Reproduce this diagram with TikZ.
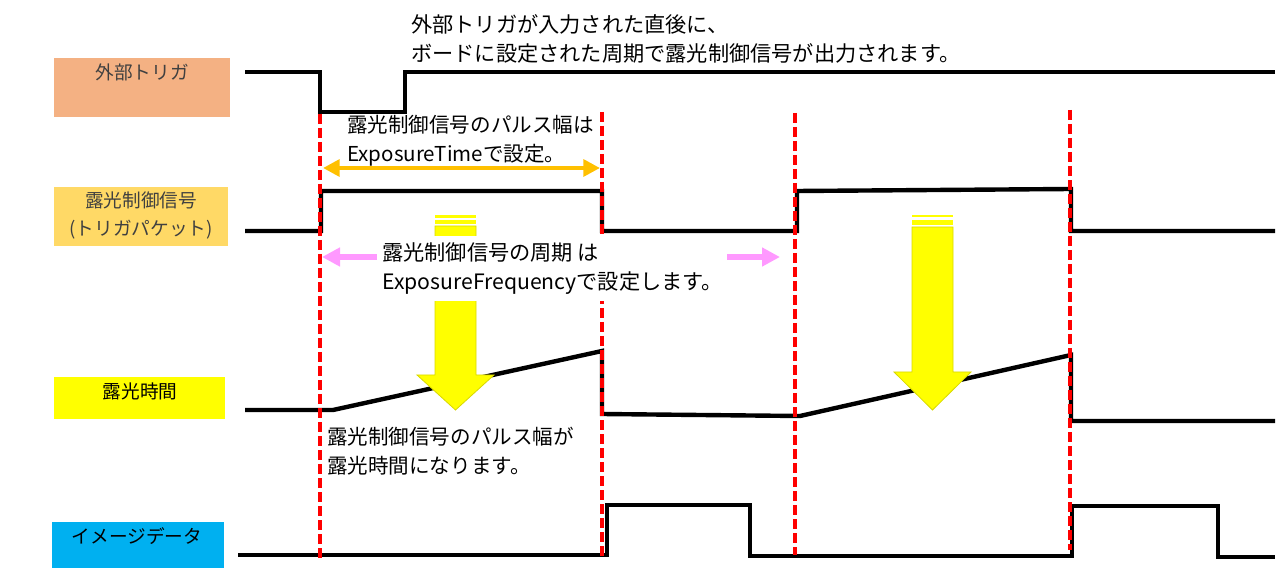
\documentclass[tikz,border=0pt]{standalone}
\usepackage{fontspec}
\setmainfont{Noto Sans CJK JP}
\usetikzlibrary{arrows.meta}
\definecolor{trigc}{HTML}{F4B183}
\definecolor{pktc}{HTML}{FFD966}
\definecolor{expc}{HTML}{FFFF00}
\definecolor{imgc}{HTML}{00B0F0}
\definecolor{orgc}{HTML}{FFC000}
\definecolor{pinkc}{HTML}{FF99FF}
\definecolor{redc}{HTML}{FF0000}
\definecolor{graytxt}{HTML}{404040}
\definecolor{arredge}{HTML}{D8D800}
\begin{document}
\begin{tikzpicture}[x=0.75pt,y=-0.75pt,
  sig/.style={line width=3.3pt, line join=miter},
  reddash/.style={line width=3.3pt, draw=redc, dash pattern=on 7.5pt off 3pt},
  lbl/.style={font=\fontsize{14}{20}\selectfont, align=center, inner sep=0pt},
  txt/.style={font=\fontsize{15.9}{21.75}\selectfont, align=left, anchor=west, inner sep=0pt},
  bigarrow/.style={fill=expc, draw=arredge, line width=0.6pt},
  pinkarrow/.style={draw=pinkc, line width=4.5pt, -{Triangle[length=13.5pt,width=13.5pt]}},
  orgarrow/.style={draw=orgc, line width=3.5pt, {Triangle[length=12.5pt,width=12.5pt]}-{Triangle[length=12.5pt,width=12.5pt]}}
]
\useasboundingbox (0,0) rectangle (1280,580);

% label boxes
\fill[trigc] (54,58) rectangle (230,117);
\node[lbl, text=graytxt] (ltrig) at (142,72) {外部トリガ};
\fill[pktc] (54,187) rectangle (228,246);
\node[lbl, text=graytxt, font=\fontsize{14}{20.5}\selectfont] (lpkt) at (141,215.5) {露光制御信号\\(トリガパケット)};
\fill[expc] (54,377) rectangle (225,419);
\node[lbl] (lexp) at (140,391) {露光時間};
\fill[imgc] (52,522) rectangle (224,568);
\node[lbl] (limg) at (137,536) {イメージデータ};

% signals
\draw[sig] (245,72) -- (320,72) -- (320,112) -- (405,112) -- (405,72) -- (1275,72);
\draw[sig] (245,231) -- (321,231) -- (321,191) -- (602,191) -- (602,231) -- (797,231) -- (797,191) -- (1071,189) -- (1071,231) -- (1275,231);
\draw[sig] (245,410) -- (333,410) -- (602,351) -- (602,414) -- (800,416) -- (1071,355) -- (1071,421) -- (1275,421);
\draw[sig] (238,555) -- (607,555) -- (607,505) -- (750,505) -- (750,556) -- (1072,556) -- (1072,506) -- (1218,506) -- (1218,557) -- (1275,557);

% red dashed markers
\draw[reddash] (320,114) -- (320,560);
\draw[reddash] (602,112) -- (602,560);
\draw[reddash] (795,113) -- (795,555);
\draw[reddash] (1070,110) -- (1070,550);

% big yellow arrows
\fill[expc] (435,215) rectangle (476,218);
\fill[expc] (435,220) rectangle (476,224);
\draw[bigarrow] (435,226) -- (476,226) -- (476,375) -- (494,375) -- (455.5,410) -- (417,375) -- (435,375) -- cycle;
\fill[expc] (912,215) rectangle (953,217);
\fill[expc] (912,220) rectangle (953,225);
\draw[bigarrow] (912,227) -- (953,227) -- (953,372) -- (971,372) -- (932.5,410) -- (894,372) -- (912,372) -- cycle;

% orange double arrow
\coordinate (oa) at (323,168);
\coordinate (ob) at (600,168);
\draw[orgarrow] (oa) -- (ob);

% pink arrows
\coordinate (pl1) at (377,257);
\coordinate (pl2) at (322,257);
\coordinate (pr1) at (717,257);
\coordinate (pr2) at (780,257);
\draw[pinkarrow] (pl1) -- (pl2);
\draw[pinkarrow] (pr1) -- (pr2);

% texts
\node[txt] (t1) at (411,39) {外部トリガが入力された直後に、\\ボードに設定された周期で露光制御信号が出力されます。};
\node[txt, font=\fontsize{15.4}{21.75}\selectfont] (t2) at (347,141) {露光制御信号のパルス幅は\\ExposureTimeで設定。};
\node[txt, fill=white, inner xsep=3pt, inner ysep=5pt] (t3) at (378,268.5) {露光制御信号の周期 は\\ExposureFrequencyで設定します。};
\node[txt, font=\fontsize{15.4}{21.75}\selectfont] (t4) at (327,451.5) {露光制御信号のパルス幅が\\露光時間になります。};
\end{tikzpicture}
\end{document}
